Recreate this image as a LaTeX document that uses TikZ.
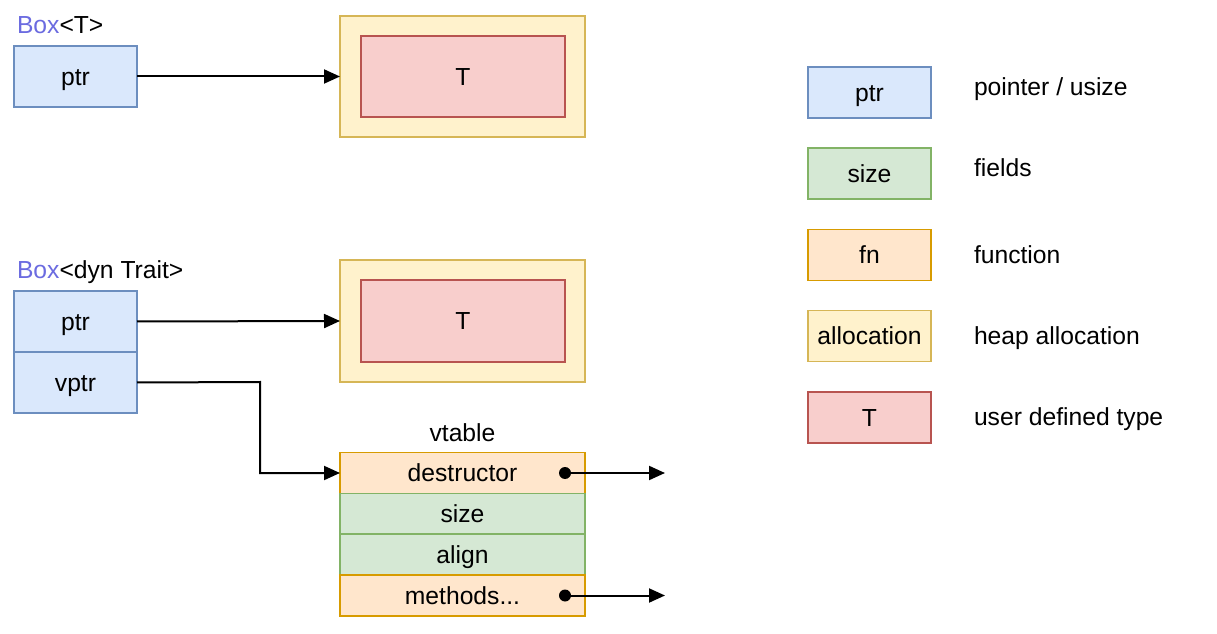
\documentclass[tikz,border=0pt]{standalone}
\usepackage{fontspec}
\setmainfont{Liberation Sans}
\usetikzlibrary{arrows.meta}
\definecolor{bfill}{HTML}{DAE8FC}\definecolor{bline}{HTML}{6C8EBF}
\definecolor{gfill}{HTML}{D5E8D4}\definecolor{gline}{HTML}{82B366}
\definecolor{ofill}{HTML}{FFE6CC}\definecolor{oline}{HTML}{D79B00}
\definecolor{yfill}{HTML}{FFF2CC}\definecolor{yline}{HTML}{D6B656}
\definecolor{rfill}{HTML}{F8CECC}\definecolor{rline}{HTML}{B85450}
\definecolor{boxblue}{HTML}{6B6BE0}
\begin{document}
\begin{tikzpicture}[x=0.75pt,y=-0.75pt,
  every node/.style={font=\fontsize{18.5}{22}\selectfont, inner sep=0pt, outer sep=0pt, text height=13.2pt, text depth=0pt},
  cell/.style={draw, line width=1.2pt, minimum width=92.25pt},
  bluec/.style={cell, fill=bfill, draw=bline, minimum height=45.75pt},
  greenc/.style={cell, fill=gfill, draw=gline},
  orangec/.style={cell, fill=ofill, draw=oline},
  yellowc/.style={cell, fill=yfill, draw=yline},
  redc/.style={cell, fill=rfill, draw=rline},
  arr/.style={line width=1.5pt, -{Triangle[length=12pt,width=10.5pt]}},
  dotc/.style={circle, fill=black, minimum size=9pt, text height=0pt},
  lbl/.style={anchor=west}]
\useasboundingbox (0,0) rectangle (1217,634);
% Box<T>
\node[lbl] (lab1) at (17,25) {\textcolor{boxblue}{Box}<T>};
\node[bluec] (ptr1) at (75.5,76.5) {ptr};
\node[yellowc, minimum width=183.75pt, minimum height=90.75pt] (alloc1) at (462.5,76.5) {};
\node[redc, minimum width=153pt, minimum height=60.75pt] (t1) at (463,76.5) {T};
\draw[arr] (ptr1.east) -- (alloc1.west);
% Box<dyn Trait>
\node[lbl] (lab2) at (17,270) {\textcolor{boxblue}{Box}<dyn Trait>};
\node[bluec] (ptr2) at (75.5,321.5) {ptr};
\node[bluec] (vptr) at (75.5,382.5) {vptr};
\node[yellowc, minimum width=183.75pt, minimum height=91.5pt] (alloc2) at (462.5,321) {};
\node[redc, minimum width=153pt, minimum height=61.5pt] (t2) at (463,321) {T};
\draw[arr] (ptr2.east) -- (alloc2.west);
% vtable
\node (vt) at (462.5,433) {vtable};
\node[orangec, minimum width=183.75pt, minimum height=30.75pt] (dtor) at (462.5,473) {destructor};
\node[greenc, minimum width=183.75pt, minimum height=30.75pt] (vsize) at (462.5,514) {size};
\node[greenc, minimum width=183.75pt, minimum height=30.75pt] (valign) at (462.5,554.5) {align};
\node[orangec, minimum width=183.75pt, minimum height=30.75pt] (meth) at (462.5,595.5) {methods...};
\coordinate (bend) at (260,382);
\draw[arr] (vptr.east) -- (bend) |- (dtor.west);
\node[dotc] (d1) at (565,473) {};
\node[dotc] (d2) at (565,595.5) {};
\coordinate (e1) at (665,473);
\coordinate (e2) at (665,595.5);
\draw[arr] (d1.center) -- (e1);
\draw[arr] (d2.center) -- (e2);
% legend
\node[bluec, minimum height=38.25pt] (lg1) at (869.5,92.5) {ptr};
\node[greenc, minimum height=38.25pt] (lg2) at (869.5,173.5) {size};
\node[orangec, minimum height=38.25pt] (lg3) at (869.5,255) {fn};
\node[yellowc, minimum height=38.25pt] (lg4) at (869.5,336) {allocation};
\node[redc, minimum height=38.25pt] (lg5) at (869.5,417.5) {T};
\node[lbl] (lt1) at (974,87) {pointer / usize};
\node[lbl] (lt2) at (974,168) {fields};
\node[lbl] (lt3) at (974,255) {function};
\node[lbl] (lt4) at (974,336) {heap allocation};
\node[lbl] (lt5) at (974,417) {user defined type};
\end{tikzpicture}
\end{document}
